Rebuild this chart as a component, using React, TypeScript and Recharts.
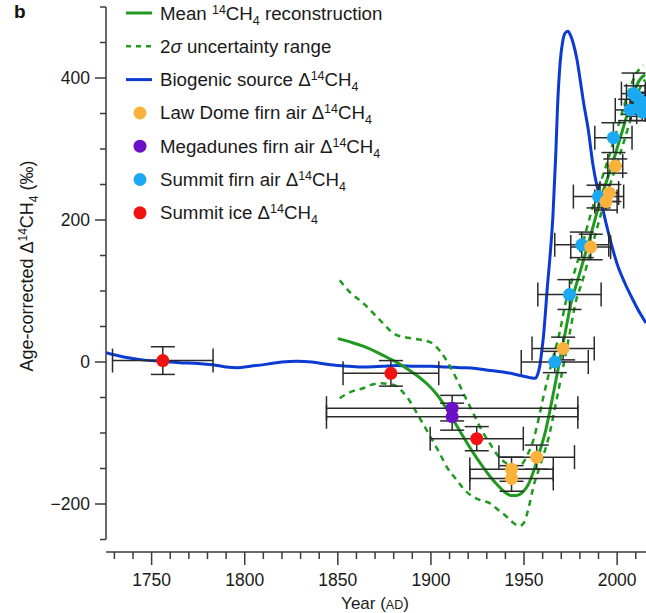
import React from 'react';
import { ComposedChart, Line, Scatter, XAxis, YAxis, ErrorBar, ReferenceLine } from 'recharts';

// ---------- data ----------
const bioYears = [1725.5, 1735, 1745, 1755, 1765, 1775, 1783, 1790, 1796, 1803, 1812, 1820, 1828, 1836, 1846, 1856, 1864, 1874, 1882, 1892, 1900, 1908, 1916, 1924, 1932, 1941, 1948, 1953, 1956, 1957.5, 1958.5, 1959.5, 1960.5, 1961.5, 1962.5, 1964, 1965.5, 1967, 1968, 1969.4, 1970.8, 1972, 1973.5, 1975, 1976.3, 1978.5, 1980, 1982, 1984.5, 1987, 1989, 1991, 1994, 1997, 2000, 2004, 2008.6, 2012, 2015.5];
const bioValues = [13, 7, 3, 1, -1, -2, -4, -7, -8, -6, -3, 0, 1, 0, -4, -6, -7, -6, -5, -6, -6, -7, -8, -9, -12, -15, -19, -22, -23, -16, -5, 15, 38, 70, 105, 150, 205, 290, 360, 422, 452, 463, 466, 460, 450, 425, 400, 365, 327, 278, 250, 230, 196, 165, 138, 112, 87, 70, 55];

const meanYears = [1850, 1857, 1864, 1870, 1876, 1882, 1887, 1893, 1898, 1903, 1908, 1913, 1918, 1923, 1928, 1932, 1936, 1940, 1943, 1946, 1949, 1952, 1956, 1958.5, 1961.3, 1965, 1968.5, 1972, 1975.6, 1978.3, 1983, 1987, 1991, 1995, 1998, 2003.4, 2008.8, 2012, 2015];
const meanValues = [33, 28, 22, 15, 7, -1, -9, -20, -31, -45, -64, -86, -108, -129, -148, -162, -174, -184, -188, -188, -184, -174, -147, -125, -100, -54, -7, 40, 87, 111, 153, 190, 228, 260, 284, 331, 378, 397, 405];

const upperYears = [1851, 1857, 1864, 1872.6, 1881.5, 1890.5, 1899.5, 1905, 1910, 1914, 1918, 1922.7, 1927, 1931.7, 1936, 1940.7, 1945, 1948.7, 1952, 1955, 1958, 1960.4, 1963, 1965.8, 1969.4, 1972.6, 1975.3, 1980, 1988, 1995, 2000.4, 2005.8, 2010, 2014];
const upperValues = [115, 97, 82, 59, 38, 33, 28, 15, -5, -25, -47, -72, -95, -115, -132, -143, -147, -144, -130, -110, -78, -49, -20, 8, 45, 87, 111, 153, 228, 284, 331, 378, 405, 418];

const lowerYears = [1851, 1857, 1863.6, 1868, 1872.6, 1879.7, 1887, 1894, 1899, 1904.8, 1909, 1913.8, 1918, 1922.7, 1927, 1931.7, 1936, 1940.7, 1944, 1947.5, 1950, 1952.5, 1955, 1958.5, 1963.8, 1967.4, 1971, 1974.5, 1978, 1981, 1985.5, 1993.5, 2000.5, 2006, 2011, 2015];
const lowerValues = [-51, -42, -37, -32, -30, -32, -49, -79, -102, -129, -150, -166, -180, -190, -195, -199, -208, -218, -226, -231, -226, -205, -176, -147, -100, -54, -7, 40, 87, 111, 153, 228, 284, 331, 378, 398];

const lawYears = [1943.3, 1943.3, 1956.8, 1971, 1985.8, 1994, 1995.8, 1999];
const lawValues = [-151, -164, -134, 19, 162, 226, 238, 276];
const lawXErr = [22.4, 22.4, 20.3, 16.7, 10.7, 6, 5, 4];
const lawYErr = [17, 18, 17, 16, 18, 12, 12, 10];

const megaYears = [1911.4, 1911.4];
const megaValues = [-65, -77];
const megaXErr = [67.5, 67.5];
const megaYErr = [18, 19];

const firnYears = [1966.5, 1974.4, 1981, 1990, 1998, 2007, 2008.8, 2010, 2011.5, 2012.5, 2013.5, 2014.5];
const firnValues = [0, 95, 165, 233, 316, 355, 378, 375, 358, 368, 352, 362];
const firnXErr = [18, 17, 14.5, 13.5, 10, 8, 6.5, 5, 4, 4, 3, 3];
const firnYErr = [15, 21, 18, 16, 21, 15, 29, 14, 12, 12, 12, 12];

const iceYears = [1756, 1878.5, 1924.6];
const iceValues = [2, -16, -108];
const iceXErr = [27, 25.7, 25];
const iceYErr = [19.5, 18, 17];

const xTicks = [1730, 1740, 1750, 1760, 1770, 1780, 1790, 1800, 1810, 1820, 1830, 1840, 1850, 1860, 1870, 1880, 1890, 1900, 1910, 1920, 1930, 1940, 1950, 1960, 1970, 1980, 1990, 2000, 2010];
const yTicks = [-250, -200, -150, -100, -50, 0, 50, 100, 150, 200, 250, 300, 350, 400, 450, 500];

// ---------- build ----------
const toLine = (xs: number[], ys: number[]) => xs.map((x, i) => ({ x, y: ys[i] }));
const toPts = (xs: number[], ys: number[], ex: number[], ey: number[]) =>
  xs.map((x, i) => ({ x, y: ys[i], ex: ex[i], ey: ey[i] }));

const bioData = toLine(bioYears, bioValues);
const meanData = toLine(meanYears, meanValues);
const upperData = toLine(upperYears, upperValues);
const lowerData = toLine(lowerYears, lowerValues);
const lawData = toPts(lawYears, lawValues, lawXErr, lawYErr);
const megaData = toPts(megaYears, megaValues, megaXErr, megaYErr);
const firnData = toPts(firnYears, firnValues, firnXErr, firnYErr);
const iceData = toPts(iceYears, iceValues, iceXErr, iceYErr);

const FONT = '"Liberation Sans", Arial, Helvetica, sans-serif';
const AXIS = '#3a3a3a';
const TXT = '#1a1a1a';
const GREEN = '#1f9a1f';
const BLUE = '#0b3bd3';
const ORANGE = '#fbb23c';
const PURPLE = '#6a10c6';
const CYAN = '#1ba9f2';
const RED = '#f21212';
const EBAR = '#2a2a2a';

const X_MIN = 1725.5;
const X_MAX = 2015.5;
const Y_MIN = -267.6;
const Y_MAX = 500;

const XTick = (props: any) => {
  const { x, y, payload } = props;
  const v = payload.value;
  const major = v % 50 === 0;
  return (
    <g>
      <line x1={x} x2={x} y1={y} y2={y + (major ? 13 : 7)} stroke={AXIS} strokeWidth={1.5} />
      {major && (
        <text x={x} y={y + 34} textAnchor="middle" fontSize={17.5} fill={TXT} fontFamily={FONT}>
          {v}
        </text>
      )}
    </g>
  );
};

const YTick = (props: any) => {
  const { x, y, payload } = props;
  const v = payload.value;
  const major = v % 200 === 0;
  return (
    <g>
      <line x1={x} x2={x - (major ? 11 : 6)} y1={y} y2={y} stroke={AXIS} strokeWidth={1.5} />
      {major && (
        <text x={x - 16} y={y + 6} textAnchor="end" fontSize={17.5} fill={TXT} fontFamily={FONT}>
          {v < 0 ? '\u2212' + Math.abs(v) : v}
        </text>
      )}
    </g>
  );
};

const dot = (color: string) => (p: any) => <circle cx={p.cx} cy={p.cy} r={6.5} fill={color} />;

const Iso = ({ pre }: { pre: string }) => (
  <>
    {pre}
    <tspan dy={-6} fontSize={12.5}>14</tspan>
    <tspan dy={6}>CH</tspan>
    <tspan dy={5} fontSize={12.5}>4</tspan>
  </>
);

const legendRows = [
  { kind: 'line', color: GREEN },
  { kind: 'dash', color: GREEN },
  { kind: 'line', color: BLUE },
  { kind: 'dot', color: ORANGE },
  { kind: 'dot', color: PURPLE },
  { kind: 'dot', color: CYAN },
  { kind: 'dot', color: RED },
];

const legendLabel = (i: number) => {
  switch (i) {
    case 0:
      return (
        <>
          {'Mean '}
          <tspan dy={-6} fontSize={12.5}>14</tspan>
          <tspan dy={6}>CH</tspan>
          <tspan dy={5} fontSize={12.5}>4</tspan>
          <tspan dy={-5}> reconstruction</tspan>
        </>
      );
    case 1:
      return (
        <>
          {'2'}
          <tspan fontStyle="italic">σ</tspan>
          {' uncertainty range'}
        </>
      );
    case 2:
      return <Iso pre="Biogenic source Δ" />;
    case 3:
      return <Iso pre="Law Dome firn air Δ" />;
    case 4:
      return <Iso pre="Megadunes firn air Δ" />;
    case 5:
      return <Iso pre="Summit firn air Δ" />;
    default:
      return <Iso pre="Summit ice Δ" />;
  }
};

export default function App() {
  return (
    <div style={{ position: 'absolute', left: 0, top: 0, width: 646, height: 613, background: '#fff' }}>
      <ComposedChart
        width={646}
        height={613}
        margin={{ top: 7, right: 0, bottom: 0, left: 46 }}
      >
        <XAxis
          type="number"
          dataKey="x"
          domain={[X_MIN, X_MAX]}
          allowDataOverflow
          ticks={xTicks}
          interval={0}
          tickSize={0}
          tickMargin={0}
          tickLine={false}
          tick={<XTick />}
          axisLine={{ stroke: AXIS, strokeWidth: 1.5 }}
          height={61}
        />
        <YAxis
          type="number"
          dataKey="y"
          domain={[Y_MIN, Y_MAX]}
          allowDataOverflow
          ticks={yTicks}
          interval={0}
          tickSize={0}
          tickMargin={0}
          tickLine={false}
          tick={<YTick />}
          axisLine={false}
          width={60}
        />
        <ReferenceLine
          segment={[{ x: X_MIN, y: -250 }, { x: X_MIN, y: 500 }]}
          stroke={AXIS}
          strokeWidth={1.5}
          ifOverflow="visible"
        />
        <Line data={bioData} dataKey="y" type="monotone" stroke={BLUE} strokeWidth={3} dot={false} isAnimationActive={false} />
        <Line data={upperData} dataKey="y" type="monotone" stroke={GREEN} strokeWidth={2.5} strokeDasharray="6 5" dot={false} isAnimationActive={false} />
        <Line data={lowerData} dataKey="y" type="monotone" stroke={GREEN} strokeWidth={2.5} strokeDasharray="6 5" dot={false} isAnimationActive={false} />
        <Line data={meanData} dataKey="y" type="monotone" stroke={GREEN} strokeWidth={3} dot={false} isAnimationActive={false} />
        <Scatter data={megaData} dataKey="y" shape={dot(PURPLE)} isAnimationActive={false}>
          <ErrorBar dataKey="ex" direction="x" width={12} stroke={EBAR} strokeWidth={1.5} />
          <ErrorBar dataKey="ey" direction="y" width={12} stroke={EBAR} strokeWidth={1.5} />
        </Scatter>
        <Scatter data={iceData} dataKey="y" shape={dot(RED)} isAnimationActive={false}>
          <ErrorBar dataKey="ex" direction="x" width={12} stroke={EBAR} strokeWidth={1.5} />
          <ErrorBar dataKey="ey" direction="y" width={12} stroke={EBAR} strokeWidth={1.5} />
        </Scatter>
        <Scatter data={firnData} dataKey="y" shape={dot(CYAN)} isAnimationActive={false}>
          <ErrorBar dataKey="ex" direction="x" width={12} stroke={EBAR} strokeWidth={1.5} />
          <ErrorBar dataKey="ey" direction="y" width={12} stroke={EBAR} strokeWidth={1.5} />
        </Scatter>
        <Scatter data={lawData} dataKey="y" shape={dot(ORANGE)} isAnimationActive={false}>
          <ErrorBar dataKey="ex" direction="x" width={12} stroke={EBAR} strokeWidth={1.5} />
          <ErrorBar dataKey="ey" direction="y" width={12} stroke={EBAR} strokeWidth={1.5} />
        </Scatter>
      </ComposedChart>
      <svg
        width={646}
        height={613}
        style={{ position: 'absolute', left: 0, top: 0, pointerEvents: 'none' }}
        fontFamily={FONT}
      >
        <text x={14} y={18} fontSize={19} fontWeight="bold" fill="#111">b</text>
        {legendRows.map((r, i) => {
          const cy = 13 + i * 33.3;
          return (
            <g key={i}>
              {r.kind === 'line' && <line x1={126} x2={152} y1={cy} y2={cy} stroke={r.color} strokeWidth={3} />}
              {r.kind === 'dash' && (
                <line x1={126} x2={152} y1={cy} y2={cy} stroke={r.color} strokeWidth={2.5} strokeDasharray="5 5" />
              )}
              {r.kind === 'dot' && <circle cx={140} cy={cy} r={6.5} fill={r.color} />}
              <text x={160} y={cy + 6.5} fontSize={18.7} fill={TXT}>
                {legendLabel(i)}
              </text>
            </g>
          );
        })}
        <text transform="translate(33,266) rotate(-90)" textAnchor="middle" fontSize={18} fill={TXT}>
          {'Age-corrected Δ'}
          <tspan dy={-6} fontSize={12}>14</tspan>
          <tspan dy={6}>CH</tspan>
          <tspan dy={5} fontSize={12}>4</tspan>
          <tspan dy={-5}> (‰)</tspan>
        </text>
        <text x={375} y={609} textAnchor="middle" fontSize={17} fill={TXT}>
          {'Year ('}
          <tspan fontSize={12.5}>AD</tspan>
          {')'}
        </text>
      </svg>
    </div>
  );
}
